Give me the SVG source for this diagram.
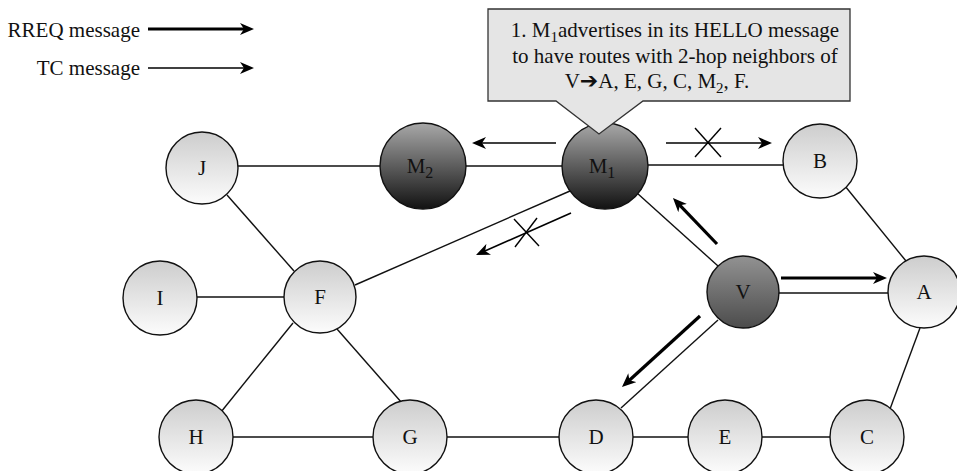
<svg xmlns="http://www.w3.org/2000/svg" width="957" height="471" viewBox="0 0 957 471">
<style>
  .edge { stroke: #111; stroke-width: 1.4; fill: none; }
  .tc { stroke: #000; stroke-width: 1.6; fill: none; marker-end: url(#ah); }
  .rreq { stroke: #000; stroke-width: 3.2; fill: none; marker-end: url(#ah); }
  .x { stroke: #000; stroke-width: 1.4; }
  .node { stroke: #111; stroke-width: 1.4; }
  .light { fill: url(#gLight); }
  .dark { fill: url(#gDark); }
  .mid { fill: url(#gMid); }
  .lbl { font-family: "Liberation Serif", "DejaVu Serif", serif; font-size: 21px; fill: #111; text-anchor: middle; }
  .leg { font-family: "Liberation Serif", "DejaVu Serif", serif; font-size: 21px; fill: #111; text-anchor: end; }
  .call { font-family: "Liberation Serif", "DejaVu Serif", serif; font-size: 21px; fill: #111; }
</style>
<defs>
  <linearGradient id="gLight" x1="0" y1="0" x2="0" y2="1">
    <stop offset="0" stop-color="#cdcdcd"/>
    <stop offset="1" stop-color="#fcfcfc"/>
  </linearGradient>
  <linearGradient id="gDark" x1="0" y1="0" x2="0" y2="1">
    <stop offset="0" stop-color="#a8a8a8"/>
    <stop offset="1" stop-color="#121212"/>
  </linearGradient>
  <linearGradient id="gMid" x1="0" y1="0" x2="0" y2="1">
    <stop offset="0" stop-color="#929292"/>
    <stop offset="1" stop-color="#4c4c4c"/>
  </linearGradient>
  <marker id="ah" viewBox="0 0 14 12" refX="8" refY="6" markerWidth="14" markerHeight="12" markerUnits="userSpaceOnUse" orient="auto">
    <path d="M0,0 L14,6 L0,12 L4,6 z" fill="#000"/>
  </marker>
</defs>

<g id="legend">
  <text class="leg" x="140" y="37">RREQ message</text>
  <line class="rreq" x1="148" y1="29" x2="248" y2="29"/>
  <text class="leg" x="140" y="75">TC message</text>
  <line class="tc" x1="148" y1="68" x2="248" y2="68"/>
</g>

<g id="connectors">
  <line class="edge" x1="238" y1="166" x2="380" y2="166"/>
  <line class="edge" x1="466" y1="166" x2="562" y2="166"/>
  <line class="edge" x1="648" y1="165" x2="783" y2="165"/>
  <line class="edge" x1="845" y1="186" x2="906" y2="261"/>
  <line class="edge" x1="637" y1="193" x2="718" y2="266"/>
  <line class="edge" x1="570" y1="191" x2="355" y2="285"/>
  <line class="edge" x1="227" y1="195" x2="294" y2="271"/>
  <line class="edge" x1="197" y1="297" x2="284" y2="297"/>
  <line class="edge" x1="293" y1="323" x2="221" y2="412"/>
  <line class="edge" x1="337" y1="329" x2="402" y2="403"/>
  <line class="edge" x1="232" y1="437" x2="373" y2="437"/>
  <line class="edge" x1="447" y1="437" x2="560" y2="437"/>
  <line class="edge" x1="633" y1="437" x2="689" y2="437"/>
  <line class="edge" x1="762" y1="437" x2="831" y2="437"/>
  <line class="edge" x1="778" y1="293" x2="889" y2="293"/>
  <line class="edge" x1="718" y1="320" x2="621" y2="408"/>
  <line class="edge" x1="920" y1="328" x2="890" y2="409"/>

  <line class="tc" x1="556" y1="143" x2="478" y2="143"/>
  <line class="tc" x1="666" y1="143" x2="766" y2="143"/>
  <line class="x" x1="695" y1="128" x2="721" y2="157"/>
  <line class="x" x1="721" y1="128" x2="695" y2="157"/>
  <line class="tc" x1="571" y1="213" x2="481.5" y2="252.6"/>
  <line class="x" x1="514" y1="219" x2="539" y2="246"/>
  <line class="x" x1="537" y1="218" x2="515" y2="247"/>

  <line class="rreq" x1="717" y1="244" x2="677.1" y2="202.3"/>
  <line class="rreq" x1="781" y1="278" x2="881" y2="278"/>
  <line class="rreq" x1="700" y1="316" x2="626.4" y2="383"/>
</g>

<g id="node-J"><circle class="node light" cx="202" cy="168" r="36"/><text class="lbl" x="202" y="175">J</text></g>
<g id="node-M2"><circle class="node dark" cx="423" cy="166" r="43"/><text class="lbl" x="420" y="173">M<tspan font-size="16" dy="5">2</tspan></text></g>
<g id="node-M1"><circle class="node dark" cx="605" cy="166" r="43"/><text class="lbl" x="602" y="173">M<tspan font-size="16" dy="5">1</tspan></text></g>
<g id="node-B"><circle class="node light" cx="820" cy="161" r="37"/><text class="lbl" x="820" y="168">B</text></g>
<g id="node-A"><circle class="node light" cx="924" cy="292" r="36"/><text class="lbl" x="924" y="299">A</text></g>
<g id="node-V"><circle class="node mid" cx="743" cy="292" r="36"/><text class="lbl" x="743" y="299">V</text></g>
<g id="node-F"><circle class="node light" cx="320" cy="297" r="36"/><text class="lbl" x="320" y="304">F</text></g>
<g id="node-I"><circle class="node light" cx="160" cy="298" r="37"/><text class="lbl" x="160" y="305">I</text></g>
<g id="node-H"><circle class="node light" cx="196" cy="437" r="37"/><text class="lbl" x="196" y="444">H</text></g>
<g id="node-G"><circle class="node light" cx="410" cy="437" r="37"/><text class="lbl" x="410" y="444">G</text></g>
<g id="node-D"><circle class="node light" cx="596" cy="437" r="37"/><text class="lbl" x="596" y="444">D</text></g>
<g id="node-E"><circle class="node light" cx="725" cy="437" r="37"/><text class="lbl" x="725" y="444">E</text></g>
<g id="node-C"><circle class="node light" cx="867" cy="437" r="37"/><text class="lbl" x="867" y="444">C</text></g>

<g id="callout">
  <polygon points="488,9 850,9 850,101 643,101 599,134 556,101 488,101" fill="#e5e5e5" stroke="#333" stroke-width="1.3"/>
  <text class="call" x="675" y="37" text-anchor="middle">1. M<tspan font-size="15" dy="5">1</tspan><tspan dy="-5">advertises in its HELLO message</tspan></text>
  <text class="call" x="675" y="63" text-anchor="middle">to have routes with 2-hop neighbors of</text>
  <text class="call" x="657" y="88" text-anchor="middle">V<tspan font-family="DejaVu Sans, sans-serif" font-size="22">➔</tspan>A, E, G, C, M<tspan font-size="15" dy="5">2</tspan><tspan dy="-5">, F.</tspan></text>
</g>
</svg>
